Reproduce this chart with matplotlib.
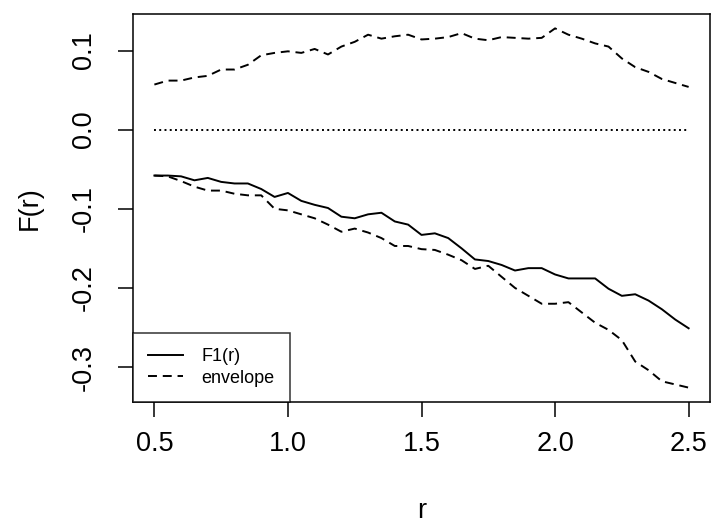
import matplotlib
matplotlib.use("Agg")
import matplotlib.pyplot as plt
import numpy as np
from matplotlib.ticker import FormatStrFormatter

plt.rcParams['font.family'] = ['Liberation Sans', 'DejaVu Sans']
plt.rcParams['axes.unicode_minus'] = False

# distance grid
r = [0.50, 0.55, 0.60, 0.65, 0.70, 0.75, 0.80, 0.85, 0.90, 0.95,
     1.00, 1.05, 1.10, 1.15, 1.20, 1.25, 1.30, 1.35, 1.40, 1.45,
     1.50, 1.55, 1.60, 1.65, 1.70, 1.75, 1.80, 1.85, 1.90, 1.95,
     2.00, 2.05, 2.10, 2.15, 2.20, 2.25, 2.30, 2.35, 2.40, 2.45, 2.50]

# observed function
f1 = [-0.058, -0.058, -0.059, -0.064, -0.061, -0.066, -0.068, -0.068, -0.075, -0.085,
      -0.080, -0.090, -0.095, -0.099, -0.110, -0.112, -0.107, -0.105, -0.116, -0.120,
      -0.133, -0.131, -0.137, -0.150, -0.164, -0.166, -0.171, -0.178, -0.175, -0.175,
      -0.183, -0.188, -0.188, -0.188, -0.201, -0.210, -0.208, -0.216, -0.227, -0.240, -0.251]

# simulation envelope
env_hi = [0.057, 0.062, 0.062, 0.066, 0.068, 0.076, 0.076, 0.082, 0.094, 0.097,
          0.099, 0.097, 0.102, 0.095, 0.105, 0.111, 0.120, 0.115, 0.118, 0.120,
          0.114, 0.115, 0.117, 0.122, 0.115, 0.113, 0.117, 0.116, 0.115, 0.116,
          0.128, 0.120, 0.115, 0.109, 0.105, 0.090, 0.079, 0.073, 0.064, 0.059, 0.054]
env_lo = [-0.058, -0.059, -0.065, -0.072, -0.077, -0.077, -0.081, -0.083, -0.083, -0.100,
          -0.102, -0.107, -0.112, -0.120, -0.129, -0.125, -0.130, -0.137, -0.147, -0.147,
          -0.151, -0.152, -0.158, -0.165, -0.176, -0.172, -0.186, -0.200, -0.210, -0.220,
          -0.220, -0.218, -0.231, -0.244, -0.253, -0.266, -0.293, -0.304, -0.318, -0.322, -0.326]

x_ticks = [0.5, 1.0, 1.5, 2.0, 2.5]
y_ticks = [-0.3, -0.2, -0.1, 0.0, 0.1]

fig = plt.figure(figsize=(7.11, 5.27), dpi=100)
ax = fig.add_axes([133 / 711, 1 - 402 / 527, 577 / 711, 388 / 527])

lw = 1.4
dash = (0, (4.6, 3.0))
ax.plot(r, f1, color='black', lw=lw, label='F1(r)')
ax.plot(r, env_hi, color='black', lw=lw, linestyle=dash, label='envelope')
ax.plot(r, env_lo, color='black', lw=lw, linestyle=dash)
ax.plot(r, np.zeros(len(r)), color='black', lw=lw, linestyle=(0, (1.0, 1.7)))

ax.margins(x=0.04, y=0.04)

ax.set_xticks(x_ticks)
ax.set_yticks(y_ticks)
ax.xaxis.set_major_formatter(FormatStrFormatter('%.1f'))
ax.yaxis.set_major_formatter(FormatStrFormatter('%.1f'))
ax.tick_params(axis='both', labelsize=19.5, length=11, width=1.1, direction='out')
ax.tick_params(axis='x', pad=10)
ax.tick_params(axis='y', pad=15, labelrotation=90)
for lab in ax.get_yticklabels():
    lab.set_va('center')

for s in ax.spines.values():
    s.set_linewidth(1.1)

ax.set_xlabel('r', fontsize=19.5, va='baseline')
ax.xaxis.set_label_coords(0.5, -0.3)
ax.set_ylabel('F(r)', fontsize=19.5, va='center')
ax.yaxis.set_label_coords(-0.1785, 0.5)

leg = ax.legend(loc='lower left', bbox_to_anchor=(0, 0), borderaxespad=0,
                fontsize=13, frameon=True, fancybox=False, edgecolor='black',
                handlelength=1.93, handletextpad=1.0, borderpad=0.85,
                labelspacing=0.25)
leg.get_frame().set_linewidth(1.1)

fig.savefig('out.png', dpi=100)
